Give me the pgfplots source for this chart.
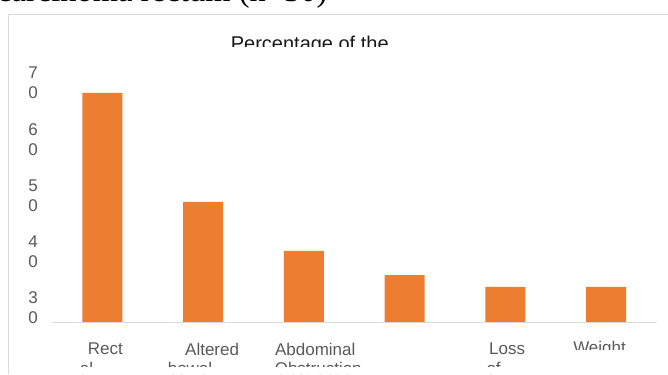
\documentclass[border=0pt]{standalone}
\usepackage{fontspec}
\setmainfont{Liberation Sans}
\newfontfamily\seriffont{Liberation Serif}
\usepackage{pgfplots}
\pgfplotsset{compat=1.18}
\definecolor{barorange}{HTML}{ED7D31}
\definecolor{bordergray}{HTML}{D9D9D9}
\definecolor{tickgray}{HTML}{595959}
\begin{document}
\begin{tikzpicture}
\begin{scope}[overlay]
\begin{axis}[
  name=ax,
  scale only axis,
  width=605pt, height=258.1pt,
  xmin=-0.5, xmax=5.5, ymin=29.111, ymax=75,
  ybar, bar width=40pt, bar shift=0pt,
  axis line style={draw=none},
  major tick length=0pt,
  tick style={draw=none},
  ytick={30,40,50,60,70},
  yticklabels={{3\\0},{4\\0},{5\\0},{6\\0},{7\\0}},
  yticklabel style={align=center, anchor=center, inner sep=0pt, xshift=-19pt, yshift=10pt, text=tickgray, font={\fontsize{17}{20}\selectfont}},
  xtick={0,1,2,3,4,5},
  xticklabels={
    {\hspace*{6.2pt}Rect\\[-0.5pt]\hspace*{-31.6pt}\raisebox{0pt}[12.4pt][0pt]{al}},
    {\hspace*{18pt}Altered\\[-0.5pt]\hspace*{-26.2pt}\raisebox{0pt}[12.4pt][0pt]{bowel}},
    {\hspace*{22.8pt}Abdominal\\[-0.5pt]\hspace*{28.8pt}\raisebox{0pt}[12.4pt][0pt]{Obstruction}},
    {},
    {\hspace*{3.4pt}Loss\\[-0.5pt]\hspace*{-23.6pt}\raisebox{0pt}[12.4pt][0pt]{of}},
    {\hspace*{-13.2pt}\raisebox{2pt}[12.2pt][0pt]{Weight}}
  },
  xticklabel style={align=center, anchor=north, inner sep=0pt, yshift=-20pt, text=tickgray, font={\fontsize{17}{20}\selectfont}},
  clip=true,
]
\addplot[fill=barorange, draw=none] coordinates {(0,70) (1,50.6) (2,41.9) (3,37.6) (4,35.5) (5,35.5)};
\draw[bordergray, line width=1pt] (rel axis cs:0,0) -- (rel axis cs:1,0);
\coordinate (B) at (rel axis cs:0,0);
\end{axis}
\end{scope}
% everything else placed in pt relative to the lower left corner of the plot area
\begin{scope}[shift={(B)}, x=1pt, y=1pt]
\path (-52,-51) rectangle (616,323);
% chart area border
\draw[bordergray, line width=1pt] (-43,-51) -- (-43,308.5) -- (616,308.5);
% cut-off caption above the chart
\node[overlay, anchor=base west, inner sep=0pt, font={\seriffont\fontsize{32.5}{38}\selectfont}] at (-55,321) {carcinoma rectum (n=30)};
% cut-off chart title
\node[anchor=base, inner sep=0pt, text=black!90, font={\fontsize{20}{24}\selectfont}] at (258,272.7) {Percentage of the};
\fill[white] (148,276) rectangle (368,261);
% hide text below the visible region and cut the Weight label
\fill[white] (513,-27) rectangle (588,-44);
\fill[white] (-40,-44) rectangle (616,-51);
\end{scope}
\end{tikzpicture}
\end{document}
